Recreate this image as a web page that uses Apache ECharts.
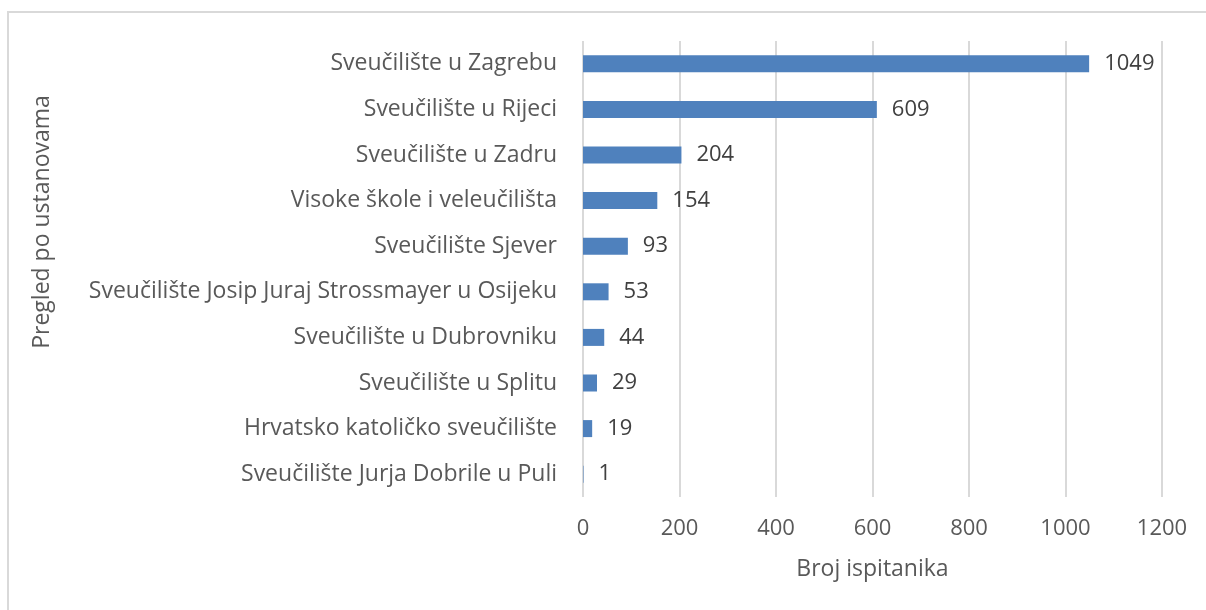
<!DOCTYPE html>
<html>
<head>
<meta charset="utf-8">
<script src="https://cdn.jsdelivr.net/npm/echarts@6/dist/echarts.min.js"></script>
<style>
    html, body { margin: 0; padding: 0; background: #fff; }
    #frame { position: absolute; left: 7px; top: 11px; width: 1220px; height: 620px;
        border-left: 2px solid #d9d9d9; border-top: 2px solid #d9d9d9; }
    #chart { position: absolute; left: 0; top: 0; width: 1206px; height: 610px; }
</style>
</head>
<body>
<div id="frame"></div>
<div id="chart"></div>
<script>
    // podaci (odozdo prema gore, kao na osi)
    var categories = [
        'Sveučilište Jurja Dobrile u Puli',
        'Hrvatsko katoličko sveučilište',
        'Sveučilište u Splitu',
        'Sveučilište u Dubrovniku',
        'Sveučilište Josip Juraj Strossmayer u Osijeku',
        'Sveučilište Sjever',
        'Visoke škole i veleučilišta',
        'Sveučilište u Zadru',
        'Sveučilište u Rijeci',
        'Sveučilište u Zagrebu'
    ];
    var values = [1, 19, 29, 44, 53, 93, 154, 204, 609, 1049];
    var xTicks = [0, 200, 400, 600, 800, 1000, 1200];

    var font = '"Open Sans", sans-serif';
    var textColor = '#595959';

    var myChart = echarts.init(document.getElementById('chart'));
    var option = {
        animation: false,
        grid: { left: 583, right: 44, top: 41, bottom: 113, containLabel: false },
        graphic: [{
            type: 'text',
            x: 42,
            y: 222,
            rotation: Math.PI / 2,
            style: {
                text: 'Pregled po ustanovama',
                font: '23px ' + font,
                fill: textColor,
                textAlign: 'center',
                textVerticalAlign: 'middle'
            }
        }],
        xAxis: {
            type: 'value',
            min: xTicks[0],
            max: xTicks[xTicks.length - 1],
            interval: 200,
            name: 'Broj ispitanika',
            nameLocation: 'middle',
            nameGap: 61,
            nameTextStyle: { fontFamily: font, fontSize: 23, color: textColor },
            axisLine: { show: false },
            axisTick: { show: false },
            axisLabel: {
                fontFamily: font, fontSize: 22, color: textColor, margin: 21,
                formatter: function (v) { return String(v); }
            },
            splitLine: { lineStyle: { color: '#d9d9d9', width: 2 } }
        },
        yAxis: {
            type: 'category',
            data: categories,
            axisLine: { show: false },
            axisTick: { show: false },
            axisLabel: { fontFamily: font, fontSize: 23, color: textColor, margin: 26 }
        },
        series: [{
            type: 'bar',
            data: values,
            barWidth: 17,
            itemStyle: { color: '#4f81bd' },
            label: {
                show: true,
                position: 'right',
                distance: 15,
                fontFamily: font,
                fontSize: 22,
                color: '#404040'
            }
        }]
    };
    myChart.setOption(option);
</script>
</body>
</html>
